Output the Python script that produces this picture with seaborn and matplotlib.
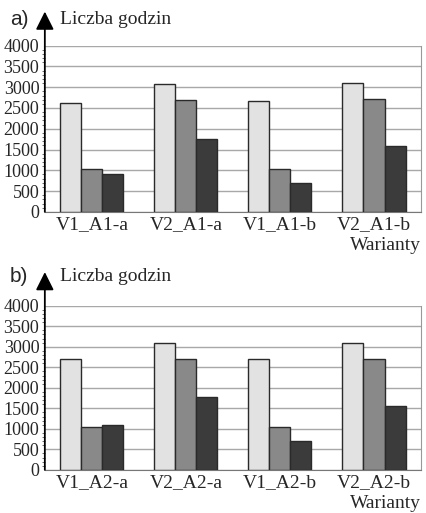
import numpy as np
import pandas as pd
import seaborn as sns
from matplotlib import pyplot as plt
from matplotlib.ticker import MultipleLocator, FixedLocator

warianty_a = ["V1_A1-a", "V2_A1-a", "V1_A1-b", "V2_A1-b"]
warianty_b = ["V1_A2-a", "V2_A2-a", "V1_A2-b", "V2_A2-b"]
serie = ["s1", "s2", "s3"]

# liczba godzin, kolejno seria 1, 2, 3
a_s1 = [2620, 3080, 2670, 3090]
a_s2 = [1040, 2700, 1040, 2710]
a_s3 = [920, 1750, 700, 1580]

b_s1 = [2700, 3100, 2700, 3100]
b_s2 = [1040, 2710, 1040, 2710]
b_s3 = [1090, 1770, 700, 1550]

kolory = ["#e2e2e2", "#898989", "#3b3b3b"]

sns.set_style("white")
plt.rcParams["font.family"] = ["Liberation Serif", "DejaVu Serif"]


def make_df(warianty, s1, s2, s3):
    rows = []
    for vals, s in zip([s1, s2, s3], serie):
        for w, v in zip(warianty, vals):
            rows.append({"wariant": w, "godziny": v, "seria": s})
    return pd.DataFrame(rows)


def draw(ax, df, warianty, letter, label_y, xlab_y):
    sns.barplot(data=df, x="wariant", y="godziny", hue="seria", order=warianty,
                hue_order=serie, palette=kolory, edgecolor="#2a2a2a",
                linewidth=1, width=0.67, legend=False, ax=ax, zorder=3)
    ax.set_xlim(-0.5, 3.5)
    ax.set_ylim(0, 4000)
    ax.set_yticks(np.arange(0, 4001, 500))
    ax.yaxis.set_minor_locator(MultipleLocator(100))
    ax.xaxis.set_minor_locator(FixedLocator([0.5, 1.5, 2.5]))
    ax.tick_params(axis="x", which="major", length=0, labelsize=14, pad=3)
    ax.tick_params(axis="x", which="minor", length=3, color="#777777", direction="out")
    ax.tick_params(axis="y", which="major", labelsize=13, pad=4, length=0)
    ax.tick_params(axis="y", which="minor", length=2, color="#555555", direction="out", left=True)
    ax.grid(axis="y", color="#a8a8a8", linewidth=1, zorder=0)
    ax.set_axisbelow(True)
    ax.set_xlabel("")
    ax.set_ylabel("")
    ax.spines["top"].set_visible(False)
    ax.spines["right"].set_color("#999999")
    ax.spines["bottom"].set_color("#777777")
    ax.spines["left"].set_visible(False)
    # os Y ze strzalka
    ax.annotate("", xy=(0, 1.205), xycoords="axes fraction", xytext=(0, 0),
                textcoords="axes fraction",
                arrowprops=dict(arrowstyle="-|>,head_length=1.1,head_width=0.55",
                                color="black", lw=1.3, shrinkA=0, shrinkB=0),
                annotation_clip=False)
    ax.text(0.04, label_y, "Liczba godzin", transform=ax.transAxes, fontsize=14,
            va="center", ha="left")
    ax.text(-0.093, label_y, letter, transform=ax.transAxes, fontsize=15,
            va="center", ha="left", family=["Liberation Sans", "DejaVu Sans"])
    ax.text(1.0, xlab_y, "Warianty", transform=ax.transAxes, fontsize=14,
            va="center", ha="right")


fig = plt.figure(figsize=(4.27, 5.13), dpi=100)
ax1 = fig.add_axes([0.105, 0.587, 0.881, 0.324])
ax2 = fig.add_axes([0.105, 0.084, 0.881, 0.320])

draw(ax1, make_df(warianty_a, a_s1, a_s2, a_s3), warianty_a, "a)", 1.157, -0.2)
draw(ax2, make_df(warianty_b, b_s1, b_s2, b_s3), warianty_b, "b)", 1.177, -0.207)

plt.savefig("out.png", dpi=100)
